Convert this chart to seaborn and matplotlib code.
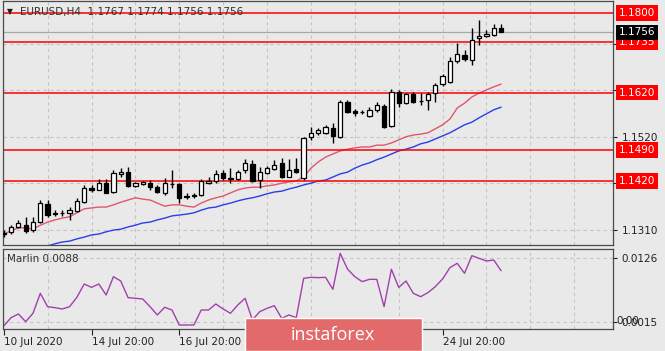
import matplotlib
matplotlib.use('Agg')
import matplotlib.pyplot as plt
import matplotlib.transforms as mtransforms
from matplotlib.patches import Rectangle
import numpy as np
import pandas as pd
import seaborn as sns

# EURUSD H4 candles
opens = [1.1302, 1.1305, 1.1316, 1.1320, 1.1309, 1.1327, 1.1368, 1.1346, 1.1348, 1.1347,
         1.1351, 1.1373, 1.1404, 1.1400, 1.1415, 1.1395, 1.1436, 1.1440, 1.1409, 1.1413,
         1.1415, 1.1406, 1.1393, 1.1414, 1.1413, 1.1383, 1.1386, 1.1388, 1.1415, 1.1420,
         1.1438, 1.1426, 1.1424, 1.1445, 1.1458, 1.1422, 1.1438, 1.1447, 1.1461, 1.1429,
         1.1447, 1.1427, 1.1519, 1.1529, 1.1529, 1.1540, 1.1520, 1.1599, 1.1578, 1.1575,
         1.1567, 1.1581, 1.1590, 1.1544, 1.1621, 1.1596, 1.1617, 1.1600, 1.1603, 1.1619,
         1.1639, 1.1644, 1.1691, 1.1705, 1.1694, 1.1743, 1.1748, 1.1751, 1.1767]
highs = [1.1309, 1.1320, 1.1332, 1.1339, 1.1339, 1.1377, 1.1377, 1.1354, 1.1354, 1.1361,
         1.1381, 1.1411, 1.1411, 1.1424, 1.1424, 1.1445, 1.1449, 1.1452, 1.1418, 1.1420,
         1.1422, 1.1411, 1.1427, 1.1445, 1.1416, 1.1393, 1.1393, 1.1424, 1.1429, 1.1445,
         1.1445, 1.1449, 1.1445, 1.1470, 1.1468, 1.1452, 1.1454, 1.1468, 1.1472, 1.1470,
         1.1472, 1.1520, 1.1542, 1.1540, 1.1547, 1.1551, 1.1603, 1.1603, 1.1583, 1.1581,
         1.1587, 1.1599, 1.1594, 1.1628, 1.1626, 1.1619, 1.1621, 1.1619, 1.1621, 1.1642,
         1.1662, 1.1700, 1.1732, 1.1716, 1.1766, 1.1784, 1.1761, 1.1775, 1.1774]
lows = [1.1293, 1.1300, 1.1314, 1.1302, 1.1305, 1.1325, 1.1339, 1.1341, 1.1341, 1.1332,
        1.1350, 1.1370, 1.1395, 1.1399, 1.1392, 1.1392, 1.1429, 1.1406, 1.1407, 1.1411,
        1.1400, 1.1393, 1.1388, 1.1404, 1.1370, 1.1379, 1.1381, 1.1386, 1.1413, 1.1415,
        1.1422, 1.1415, 1.1422, 1.1438, 1.1418, 1.1404, 1.1436, 1.1445, 1.1427, 1.1428,
        1.1438, 1.1422, 1.1513, 1.1524, 1.1526, 1.1506, 1.1517, 1.1574, 1.1567, 1.1572,
        1.1565, 1.1576, 1.1539, 1.1542, 1.1587, 1.1594, 1.1596, 1.1592, 1.1581, 1.1599,
        1.1635, 1.1642, 1.1687, 1.1691, 1.1682, 1.1728, 1.1746, 1.1748, 1.1756]
closes = [1.1300, 1.1316, 1.1325, 1.1307, 1.1327, 1.1370, 1.1343, 1.1348, 1.1347, 1.1354,
          1.1375, 1.1404, 1.1400, 1.1415, 1.1393, 1.1438, 1.1440, 1.1409, 1.1415, 1.1418,
          1.1406, 1.1395, 1.1415, 1.1413, 1.1382, 1.1386, 1.1388, 1.1420, 1.1420, 1.1436,
          1.1427, 1.1424, 1.1440, 1.1461, 1.1420, 1.1440, 1.1449, 1.1456, 1.1429, 1.1445,
          1.1440, 1.1517, 1.1529, 1.1535, 1.1542, 1.1522, 1.1599, 1.1576, 1.1574, 1.1577,
          1.1581, 1.1592, 1.1542, 1.1621, 1.1596, 1.1617, 1.1599, 1.1601, 1.1617, 1.1637,
          1.1658, 1.1691, 1.1707, 1.1696, 1.1739, 1.1748, 1.1752, 1.1766, 1.1756]

# moving averages as drawn on the chart
ma_fast = [1.1300, 1.1307, 1.1314, 1.1314, 1.1311, 1.1320, 1.1327, 1.1332, 1.1336, 1.1339,
           1.1348, 1.1357, 1.1359, 1.1361, 1.1361, 1.1366, 1.1372, 1.1377, 1.1382, 1.1379,
           1.1377, 1.1370, 1.1363, 1.1366, 1.1366, 1.1363, 1.1361, 1.1370, 1.1377, 1.1382,
           1.1386, 1.1393, 1.1400, 1.1404, 1.1406, 1.1406, 1.1409, 1.1411, 1.1415, 1.1418,
           1.1420, 1.1429, 1.1449, 1.1463, 1.1474, 1.1481, 1.1488, 1.1492, 1.1495, 1.1497,
           1.1497, 1.1501, 1.1501, 1.1506, 1.1513, 1.1520, 1.1524, 1.1526, 1.1529, 1.1538,
           1.1547, 1.1560, 1.1585, 1.1596, 1.1610, 1.1619, 1.1626, 1.1633, 1.1639]
ma_slow = [1.1246, 1.1250, 1.1255, 1.1259, 1.1264, 1.1268, 1.1273, 1.1278, 1.1282, 1.1284,
           1.1289, 1.1293, 1.1298, 1.1300, 1.1305, 1.1309, 1.1311, 1.1316, 1.1320, 1.1325,
           1.1327, 1.1332, 1.1336, 1.1341, 1.1343, 1.1345, 1.1348, 1.1354, 1.1359, 1.1361,
           1.1366, 1.1370, 1.1375, 1.1379, 1.1382, 1.1386, 1.1391, 1.1395, 1.1397, 1.1402,
           1.1406, 1.1411, 1.1415, 1.1420, 1.1422, 1.1429, 1.1436, 1.1440, 1.1449, 1.1456,
           1.1461, 1.1468, 1.1474, 1.1481, 1.1488, 1.1492, 1.1497, 1.1504, 1.1508, 1.1515,
           1.1522, 1.1529, 1.1538, 1.1547, 1.1553, 1.1563, 1.1572, 1.1581, 1.1587]

marlin = [0.00081, 0.00225, 0.00289, 0.00156, 0.00301, 0.00647, 0.00416, 0.00399, 0.00376, 0.00416,
          0.00578, 0.00809, 0.00751, 0.00809, 0.00618, 0.00936, 0.00861, 0.00572, 0.00561, 0.00549,
          0.00416, 0.00272, 0.00405, 0.00358, 0.00098, 0.00098, 0.00098, 0.00358, 0.00358, 0.00462,
          0.00376, 0.00301, 0.00445, 0.00561, 0.00185, 0.00329, 0.00387, 0.00433, 0.00214, 0.00272,
          0.00225, 0.00907, 0.00925, 0.00919, 0.00925, 0.00717, 0.01341, 0.01069, 0.00936, 0.00850,
          0.00890, 0.00890, 0.00416, 0.01064, 0.00751, 0.00861, 0.00647, 0.00589, 0.00659, 0.00763,
          0.00896, 0.01092, 0.01168, 0.00994, 0.01300, 0.01254, 0.01208, 0.01225, 0.01040]

levels = [1.1800, 1.1735, 1.1620, 1.1490, 1.1420]
bid = 1.1756
price_grid = [1.1310, 1.1415, 1.1520, 1.1625, 1.1730]
price_labels = ['1.1310', '', '1.1520', '', '']  # the others sit under the level boxes
marlin_ticks = [0.0015, 0.0126]
date_pos = [0, 12, 24, 36, 48, 60]
date_labels = ['10 Jul 2020', '14 Jul 20:00', '16 Jul 20:00', '', '', '24 Jul 20:00']  # two are under the logo

df = pd.DataFrame({'bar': np.arange(len(opens)), 'open': opens, 'high': highs,
                   'low': lows, 'close': closes, 'ma_fast': ma_fast, 'ma_slow': ma_slow,
                   'marlin': marlin})

sns.set_theme(style='white')
plt.rcParams['font.family'] = ['DejaVu Sans']
plt.rcParams['font.size'] = 7.5

bg = '#e9e9e9'
txt = '#222222'
fig = plt.figure(figsize=(6.65, 3.51), dpi=100, facecolor=bg)
ax = fig.add_axes([3 / 665, 1 - 245 / 351, 610 / 665, 244 / 351], facecolor=bg)
ax2 = fig.add_axes([3 / 665, 22 / 351, 610 / 665, 80 / 351], facecolor=bg)

xlim = (-0.1, 83.3)
grid_x = list(range(6, 84, 6))

# --- price panel ---
ax.vlines(df['bar'], df['low'], df['high'], color='black', lw=1, zorder=3)
body_lo = df[['open', 'close']].min(axis=1)
body_h = (df['close'] - df['open']).abs()
body_col = np.where(df['close'] >= df['open'], 'white', 'black')
ax.bar(df['bar'], body_h, bottom=body_lo, width=0.58, color=body_col,
       edgecolor='black', linewidth=0.9, zorder=4)
sns.lineplot(data=df, x='bar', y='ma_fast', ax=ax, color='#e0566e', lw=1, zorder=2)
sns.lineplot(data=df, x='bar', y='ma_slow', ax=ax, color='#2a3ee8', lw=1, zorder=2)

ax.set_xlim(*xlim)
ax.set_ylim(1.12752, 1.18271)
ax.set_xticks([])
ax.set_xticks(grid_x, minor=True)
ax.tick_params(axis='x', which='minor', length=0)
ax.yaxis.tick_right()
ax.set_yticks(price_grid, price_labels)
ax.tick_params(axis='y', right=True, length=3, width=0.8, pad=3, labelsize=7.5,
               colors=txt, direction='out')
ax.grid(True, which='minor', axis='x', color='#c4c4c4', ls=(0, (3, 3)), lw=0.8)
ax.grid(True, which='major', axis='y', color='#c4c4c4', ls=(0, (3, 3)), lw=0.8)
ax.set_xlabel('')
ax.set_ylabel('')

trans = mtransforms.blended_transform_factory(ax.transAxes, ax.transData)
ax.axhline(bid, color='#a8a8a8', lw=0.9, zorder=1.5)
for lv in levels:
    ax.axhline(lv, color='#ff0000', lw=1.1, zorder=2.5)
    ax.text(1.0098, lv, f'{lv:.4f}', transform=trans, ha='left', va='center',
            color='white', fontsize=7.5, clip_on=False, zorder=6,
            bbox=dict(boxstyle='square,pad=0.28', fc='#ff0000', ec='none'))
ax.text(1.0098, bid, f'{bid:.4f}', transform=trans, ha='left', va='center',
        color='white', fontsize=7.5, clip_on=False, zorder=6,
        bbox=dict(boxstyle='square,pad=0.28', fc='black', ec='none'))

fig.text(7 / 665, 1 - 12 / 351, '\u25bc', fontsize=5.5, color='#202020', va='center')
fig.text(20 / 665, 1 - 12 / 351, 'EURUSD,H4  1.1767 1.1774 1.1756 1.1756',
         fontsize=7.5, color='#303030', va='center')

# --- Marlin panel ---
sns.lineplot(data=df, x='bar', y='marlin', ax=ax2, color='#a43fae', lw=1)
ax2.set_xlim(*xlim)
ax2.set_ylim(0.000286, 0.01416)
ax2.yaxis.tick_right()
ax2.set_yticks(marlin_ticks, [f'{t:.4f}' for t in marlin_ticks])
ax2.tick_params(axis='y', right=True, length=3, width=0.8, pad=3, labelsize=7.5,
                colors=txt, direction='out')
ax2.set_xticks(date_pos, date_labels, ha='left')
ax2.set_xticks(grid_x, minor=True)
ax2.tick_params(axis='x', which='major', bottom=True, length=4, width=0.8, pad=1.5,
                labelsize=7.5, colors=txt, direction='out')
ax2.tick_params(axis='x', which='minor', length=0)
ax2.grid(True, which='minor', axis='x', color='#c4c4c4', ls=(0, (3, 3)), lw=0.8)
ax2.grid(True, which='major', axis='y', color='#c4c4c4', ls=(0, (3, 3)), lw=0.8)
ax2.set_xlabel('')
ax2.set_ylabel('')
ax2.text(4 / 610, 0.875, 'Marlin 0.0088', transform=ax2.transAxes, ha='left',
         va='center', fontsize=7.5, color='#303030')
trans2 = mtransforms.blended_transform_factory(ax2.transAxes, ax2.transData)
ax2.text(1.005, 0.00175, '0.00', transform=trans2, ha='left', va='center',
         fontsize=7.5, color=txt, clip_on=False)

for a in (ax, ax2):
    for s in a.spines.values():
        s.set_color('#4a4a4a')
        s.set_linewidth(0.9)

# watermark
fig.patches.append(Rectangle((245 / 665, 0), 177 / 665, 33 / 351, transform=fig.transFigure,
                             fc='#e36a6a', ec='white', lw=1, zorder=10))
fig.text(333 / 665, 16 / 351, 'instaforex', fontsize=13, color='white',
         ha='center', va='center', family=['Open Sans', 'DejaVu Sans'], zorder=11)

fig.savefig('out.png', dpi=100, facecolor=bg)
